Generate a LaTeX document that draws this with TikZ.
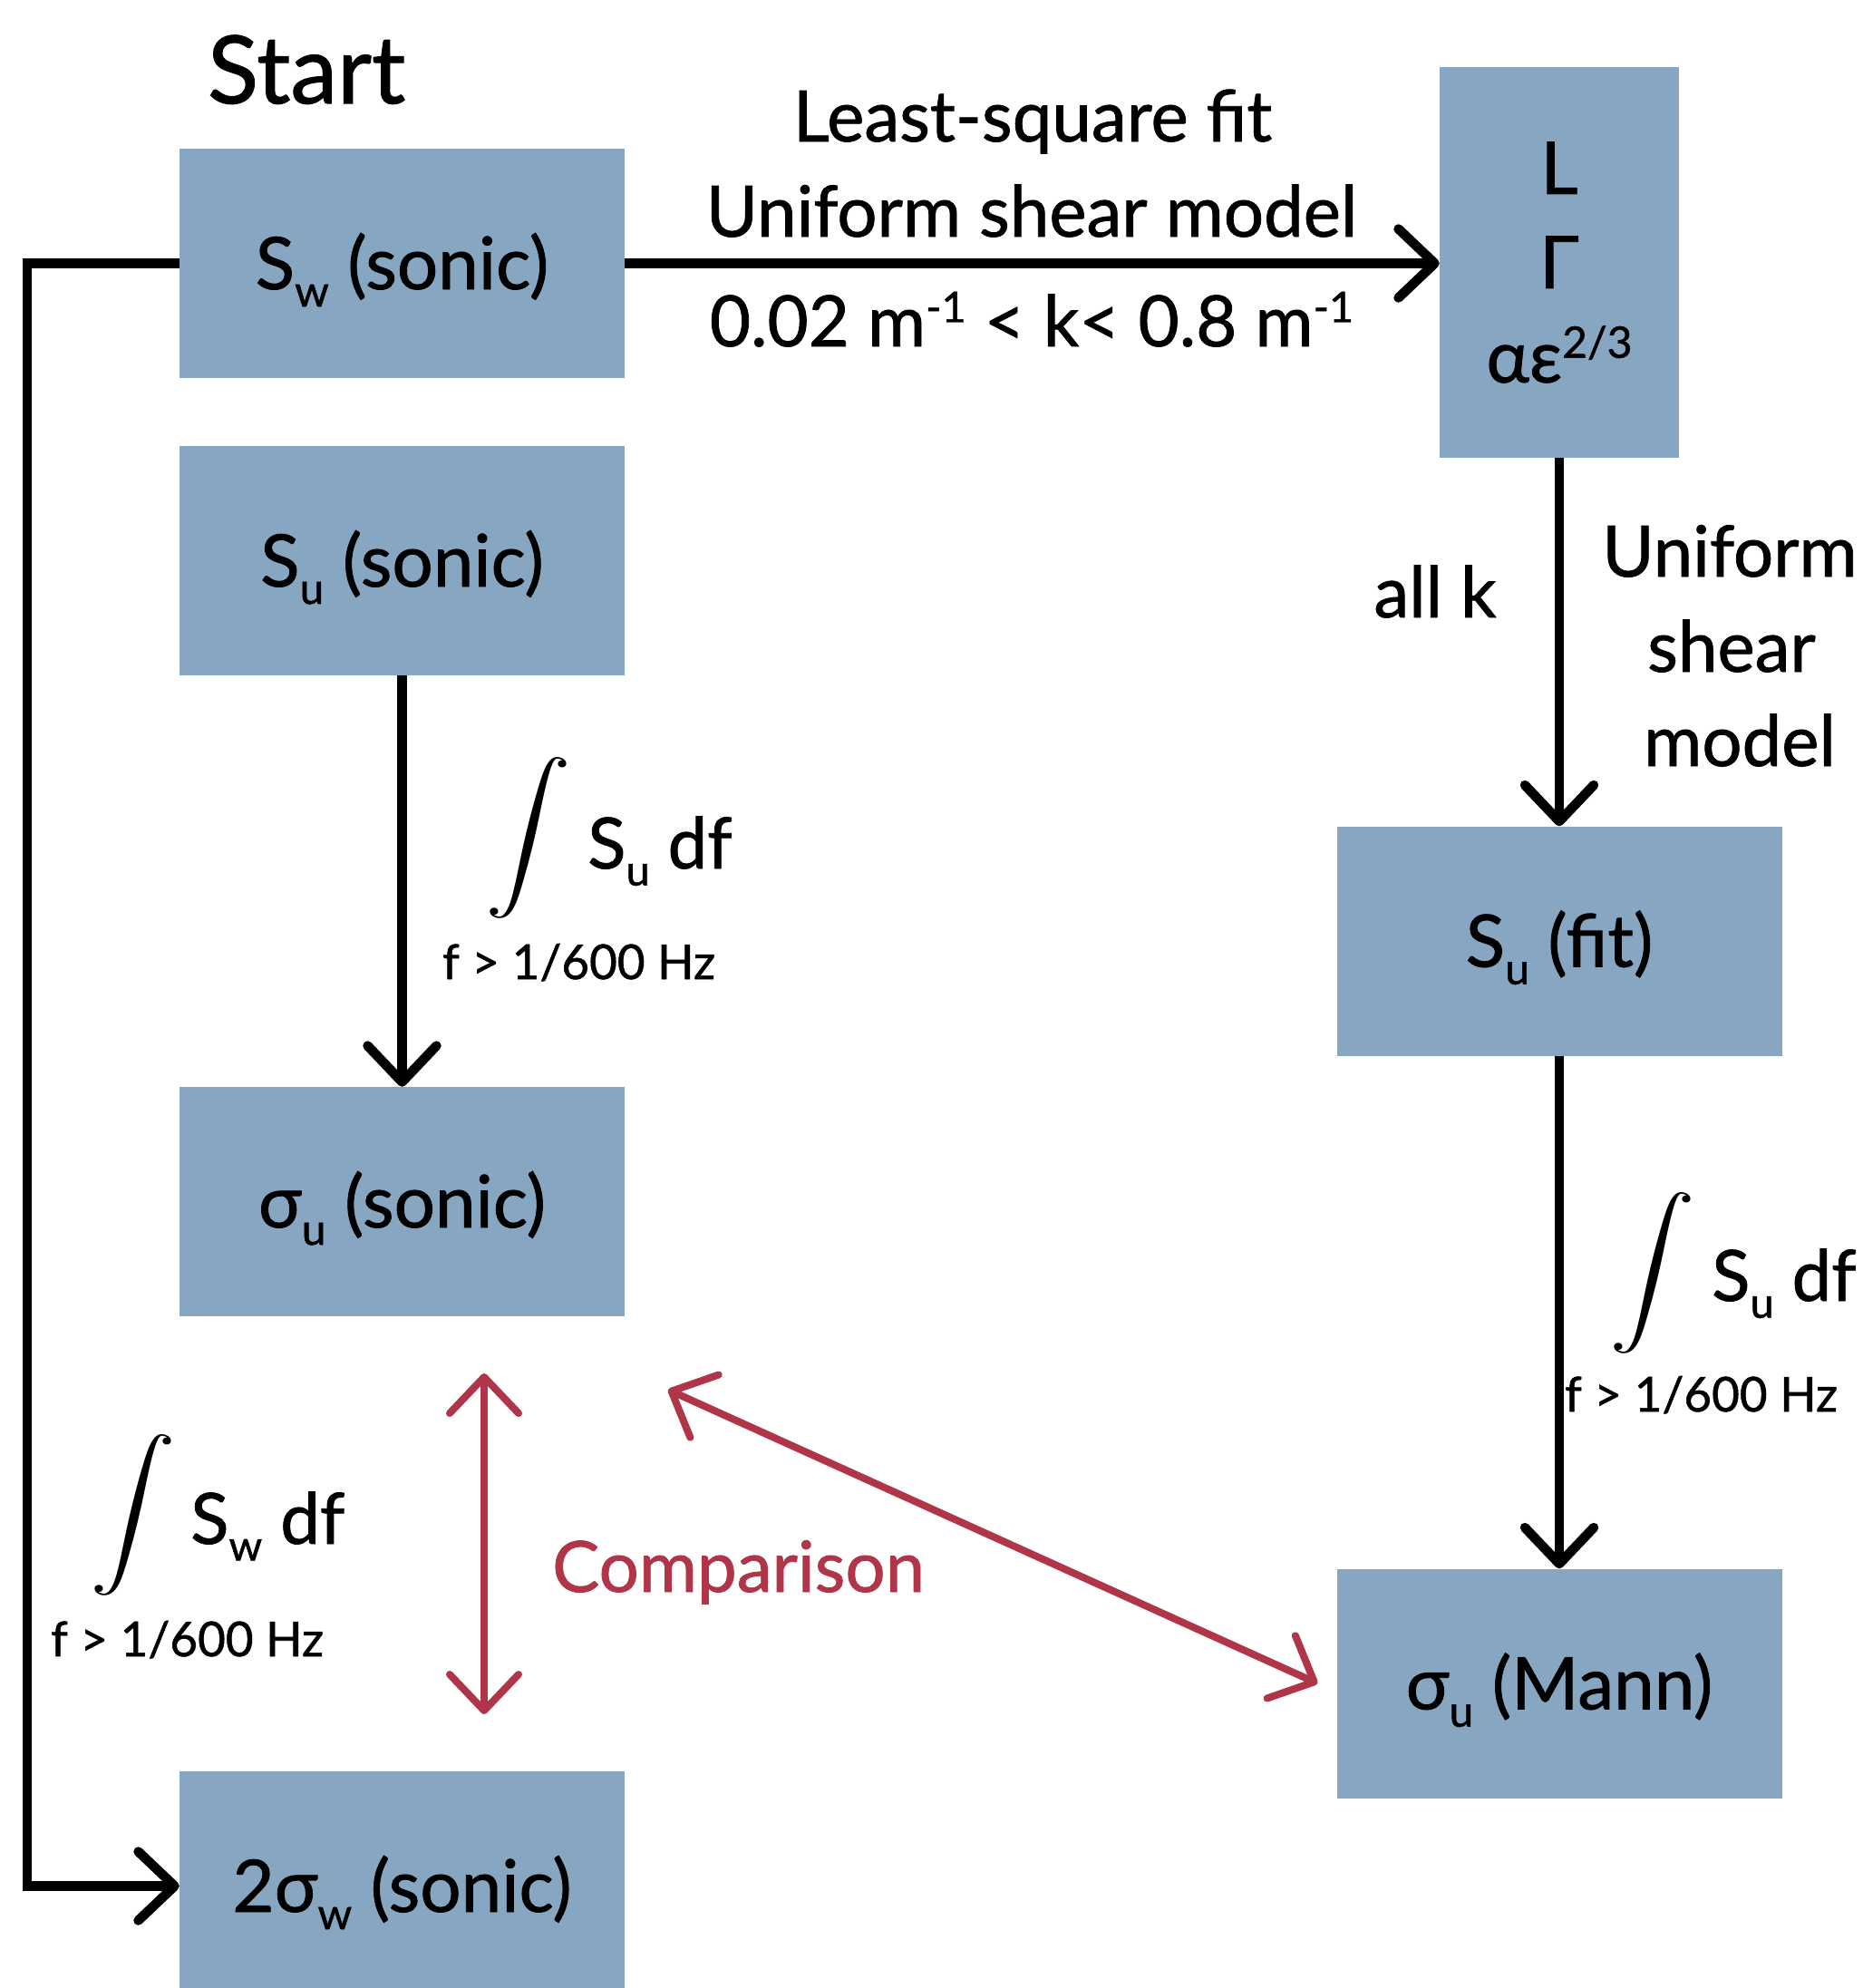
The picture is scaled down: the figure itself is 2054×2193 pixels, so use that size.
\documentclass[tikz,border=0pt]{standalone}
\usepackage{fontspec}
\usepackage{graphicx}
\setmainfont{Lato}[FakeBold=1]
\usetikzlibrary{arrows.meta,calc}
\definecolor{boxblue}{HTML}{87A6C1}
\definecolor{cred}{HTML}{B03549}
\newcommand\mysub[1]{\raisebox{-0.24em}{\scalebox{0.6}{#1}}}
\newcommand\mysup[1]{\raisebox{0.34em}{\scalebox{0.6}{#1}}}
\begin{document}
\begin{tikzpicture}[x=1pt,y=-1pt,
  bx/.style={fill=boxblue,draw=none,minimum width=491pt,minimum height=253pt,inner sep=0pt,text height=57pt,text depth=0pt,font=\fontsize{80}{96}\selectfont},
  lbl/.style={inner sep=0pt,font=\fontsize{78}{92}\selectfont},
  small/.style={inner sep=0pt,font=\fontsize{53}{64}\selectfont},
  bk/.style={line width=10.5pt},
  arr/.style={bk,-{Straight Barb[length=40pt,width=76pt,line cap=round,line join=round]}},
  rarr/.style={cred,line width=8pt,{Straight Barb[length=40pt,width=76pt,line cap=round,line join=round]}-{Straight Barb[length=40pt,width=76pt,line cap=round,line join=round]}},
  intg/.style={inner sep=0pt}]
\useasboundingbox (0,0) rectangle (2054,2193);
\clip (0,0) rectangle (2054,2193);

% boxes
\node[bx] (sw) at (443.5,290.5) {S\mysub{w} (sonic)};
\node[bx] (su) at (443.5,618.5) {S\mysub{u} (sonic)};
\node[bx] (sus) at (443.5,1325.5) {σ\mysub{u} (sonic)};
\node[bx] (tsw) at (443.5,2080.5) {2σ\mysub{w} (sonic)};
\node[bx,text height=,text depth=,minimum width=264pt,minimum height=431pt,align=center,font=\fontsize{80}{104}\selectfont] (lg) at (1720,289.5) {L\\Γ\\αε\mysup{2/3}};
\node[bx] (fit) at (1720,1038) {S\mysub{u} (fit)};
\node[bx] (mann) at (1720,1857) {σ\mysub{u} (Mann)};

% labels
\node[inner sep=0pt,font=\fontsize{104}{120}\selectfont,anchor=base] (start) at (338,114) {Start};
\node[lbl,anchor=base] (e1) at (1139,156) {Least-square fit};
\node[lbl,anchor=base] (e2) at (1138,261) {Uniform shear model};
\node[lbl,anchor=base] (e3) at (1138,382) {0.02 m\mysup{-1} < k< 0.8 m\mysup{-1}};
\node[lbl,anchor=base] (allk) at (1583,681) {all k};
\node[lbl,anchor=base] (u1) at (1908,636) {Uniform};
\node[lbl,anchor=base] (u2) at (1910,741) {shear};
\node[lbl,anchor=base] (u3) at (1919,845) {model};

\node[intg] (int1) at (583,924.5) {\scalebox{9.5}[8]{$\displaystyle\int$}};
\node[lbl,anchor=base west] (sudf1) at (648,958) {S\mysub{u} df};
\node[small,anchor=base west] (f1) at (488,1080) {f > 1/600 Hz};

\node[intg] (int2) at (1822.5,1404.5) {\scalebox{9.5}[8]{$\displaystyle\int$}};
\node[lbl,anchor=base west] (sudf2) at (1888,1435) {S\mysub{u} df};
\node[small,anchor=base west] (f2) at (1726,1557) {f > 1/600 Hz};

\node[intg] (int3) at (147,1671.5) {\scalebox{9.5}[8]{$\displaystyle\int$}};
\node[lbl,anchor=base west] (swdf) at (210,1703) {S\mysub{w} df};
\node[small,anchor=base west] (f3) at (56,1827) {f > 1/600 Hz};

\node[lbl,anchor=base west,text=cred] (cmp) at (609,1756) {Comparison};

% connectors
\draw[arr] (sw.east) -- (sw.east -| lg.west);
\draw[arr,line join=miter] (sw.west) -- ++(-168,0) |- (tsw.west);
\draw[arr] (su.south) -- (sus.north);
\draw[arr] (lg.south) -- (fit.north);
\draw[arr] (fit.south) -- (mann.north);

\coordinate (c1) at (534,1515);
\coordinate (c2) at (534,1891);
\coordinate (c3) at (737,1533);
\draw[rarr] (c1) -- (c2);
\draw[rarr] (c3) -- ([xshift=-21pt]mann.west);
\end{tikzpicture}
\end{document}
